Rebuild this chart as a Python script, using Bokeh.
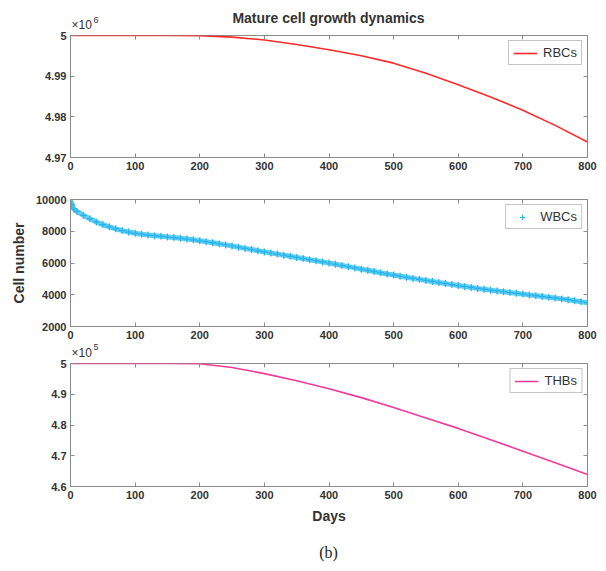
from bokeh.plotting import figure
from bokeh.layouts import column
from bokeh.models import Range1d, FixedTicker, LinearAxis, Label, Legend, LegendItem
from bokeh.embed import file_html
from bokeh.resources import INLINE

# ---------------- data ----------------
x_ticks = [0, 100, 200, 300, 400, 500, 600, 700, 800]

# RBCs (units of 10^6 cells)
rbc_days = [0, 50, 100, 150, 200, 250, 300, 350, 400, 450, 500, 550, 600, 650, 700, 750, 800]
rbc_vals = [5.0, 5.0, 5.0, 5.0, 4.99995, 4.9996, 4.9989, 4.9978, 4.9965, 4.9950, 4.9932,
            4.9907, 4.9879, 4.9849, 4.9816, 4.9779, 4.9738]
rbc_yticks = [4.97, 4.98, 4.99, 5.0]
rbc_ylabels = ["4.97", "4.98", "4.99", "5"]

# WBCs (cells)
wbc_days = [0, 2, 5] + list(range(10, 801, 10))
wbc_vals = [10000, 9700, 9400,
            9250, 9000, 8780, 8580, 8420, 8280, 8150, 8040, 7950, 7870,
            7810, 7760, 7720, 7680, 7640, 7600, 7560, 7510, 7460, 7400,
            7340, 7280, 7210, 7140, 7070, 7000, 6920, 6850, 6770, 6700,
            6630, 6560, 6490, 6420, 6350, 6280, 6210, 6140, 6070, 6000,
            5920, 5840, 5770, 5690, 5610, 5540, 5460, 5380, 5310, 5240,
            5170, 5100, 5030, 4970, 4900, 4840, 4770, 4710, 4640, 4580,
            4520, 4460, 4400, 4350, 4290, 4240, 4190, 4140, 4090, 4040,
            3990, 3940, 3890, 3840, 3790, 3740, 3690, 3620, 3560, 3500]
wbc_yticks = [2000, 4000, 6000, 8000, 10000]
wbc_ylabels = ["2000", "4000", "6000", "8000", "10000"]

# THBs (units of 10^5 cells)
thb_days = [0, 50, 100, 150, 200, 250, 300, 350, 400, 450, 500, 550, 600, 650, 700, 750, 800]
thb_vals = [5.0, 5.0, 5.0, 5.0, 4.999, 4.987, 4.967, 4.944, 4.918, 4.889, 4.857,
            4.823, 4.789, 4.752, 4.715, 4.677, 4.639]
thb_yticks = [4.6, 4.7, 4.8, 4.9, 5.0]
thb_ylabels = ["4.6", "4.7", "4.8", "4.9", "5"]

title_text = "Mature cell growth dynamics"
ylabel_text = "Cell number"
xlabel_text = "Days"
panel_tag = "(b)"

# ---------------- styling ----------------
FONT = "Liberation Sans"
TXT = "#333333"
AX = "#8a8a8a"
W = 606
LEFT, RIGHT = 70, 19


def text_strip(height):
    """A bare figure whose x coordinates equal page pixels, used for free-standing texts."""
    s = figure(width=W, height=height, output_backend="svg", toolbar_location=None,
               x_range=Range1d(LEFT, W - RIGHT), y_range=Range1d(0, height),
               x_axis_type=None, y_axis_type=None,
               min_border_left=LEFT, min_border_right=RIGHT,
               min_border_top=0, min_border_bottom=0)
    s.grid.visible = False
    s.outline_line_color = None
    return s


def exponent(s, x, y_base, y_sup, exp):
    s.add_layout(Label(x=x, y=y_base, text="×10", text_font=FONT, text_font_size="12px",
                       text_color=TXT, text_baseline="middle", text_align="left"))
    s.add_layout(Label(x=x + 22, y=y_sup, text=str(exp), text_font=FONT,
                       text_font_size="9px", text_color=TXT,
                       text_baseline="middle", text_align="left"))


def make_fig(height, top, bottom, yr, yticks, ylabels):
    p = figure(width=W, height=height, output_backend="svg", toolbar_location=None,
               x_range=Range1d(0, 800), y_range=Range1d(*yr),
               x_axis_type=None, y_axis_type=None,
               min_border_left=LEFT, min_border_right=RIGHT,
               min_border_top=top, min_border_bottom=bottom)
    p.grid.visible = False
    p.outline_line_color = AX
    p.outline_line_width = 1
    xa = LinearAxis(ticker=FixedTicker(ticks=x_ticks))
    ya = LinearAxis(ticker=FixedTicker(ticks=yticks))
    ya.major_label_overrides = {t: l for t, l in zip(yticks, ylabels)}
    for ax in (xa, ya):
        ax.axis_line_color = AX
        ax.major_tick_line_color = AX
        ax.major_tick_in = 4
        ax.major_tick_out = 0
        ax.minor_tick_line_color = None
        ax.major_label_text_font = FONT
        ax.major_label_text_font_style = "bold"
        ax.major_label_text_font_size = "11px"
        ax.major_label_text_color = TXT
        ax.major_label_standoff = 4
    p.add_layout(xa, "below")
    p.add_layout(ya, "left")
    # mirrored ticks on top / right (labels not drawn)
    for ticks, side in ((yticks, "right"), (x_ticks, "above")):
        m = LinearAxis(ticker=FixedTicker(ticks=ticks), major_label_text_font_size="1px",
                       major_label_text_color=None, axis_line_color=None,
                       major_tick_line_color=AX, major_tick_in=4, major_tick_out=0,
                       minor_tick_line_color=None, major_label_standoff=0)
        p.add_layout(m, side)
    return p, xa, ya


def add_legend(p, renderers, label):
    lg = Legend(items=[LegendItem(label=label, renderers=renderers)],
                location="top_right", margin=5, padding=4, spacing=0,
                label_text_font=FONT, label_text_font_size="13px", label_text_color=TXT,
                label_height=14, glyph_height=14, glyph_width=24, label_standoff=6,
                border_line_color=AX, border_line_width=1, background_fill_alpha=1.0)
    p.add_layout(lg, "center")


# ---- header: title and x10^6 ----
head = text_strip(31)
head.add_layout(Label(x=328, y=14, text=title_text, text_font=FONT, text_font_size="14px",
                      text_font_style="bold", text_color=TXT,
                      text_align="center", text_baseline="middle"))
exponent(head, 71, 7, 12, 6)

# ---- panel 1: RBCs ----
p1, x1, y1 = make_fig(156, 4, 30, (4.97, 5.0), rbc_yticks, rbc_ylabels)
r1 = p1.line(rbc_days, rbc_vals, line_color="#ff2b2b", line_width=1.6)
add_legend(p1, [r1], "RBCs")

# ---- panel 2: WBCs ----
p2, x2, y2 = make_fig(156, 12, 17, (2000, 10000), wbc_yticks, wbc_ylabels)
p2.line(wbc_days, wbc_vals, line_color="#3cbdee", line_width=5, line_alpha=0.8)
r2 = p2.scatter(wbc_days, wbc_vals, marker="cross", size=7, line_width=1.2,
                line_color="#22b5ec")
y2.axis_label = ylabel_text
y2.axis_label_text_font = FONT
y2.axis_label_text_font_style = "bold"
y2.axis_label_text_font_size = "14px"
y2.axis_label_text_color = TXT
y2.axis_label_standoff = 6
add_legend(p2, [r2], "WBCs")

# ---- spacer: x10^5 ----
mid = text_strip(16)
exponent(mid, 71, 7, 13, 5)

# ---- panel 3: THBs ----
p3, x3, y3 = make_fig(171, 4, 44, (4.6, 5.0), thb_yticks, thb_ylabels)
r3 = p3.line(thb_days, thb_vals, line_color="#f43a9a", line_width=1.6)
x3.axis_label = xlabel_text
x3.axis_label_text_font = FONT
x3.axis_label_text_font_style = "bold"
x3.axis_label_text_font_size = "14px"
x3.axis_label_text_color = TXT
x3.axis_label_standoff = 6
add_legend(p3, [r3], "THBs")

# ---- footer: (b) ----
foot = text_strip(41)
foot.add_layout(Label(x=328, y=19, text=panel_tag, text_font="Liberation Serif",
                      text_font_size="16px", text_color="#222222",
                      text_align="center", text_baseline="middle"))

layout = column(head, p1, p2, mid, p3, foot, spacing=0)
open("out.html", "w").write(file_html(layout, INLINE))
